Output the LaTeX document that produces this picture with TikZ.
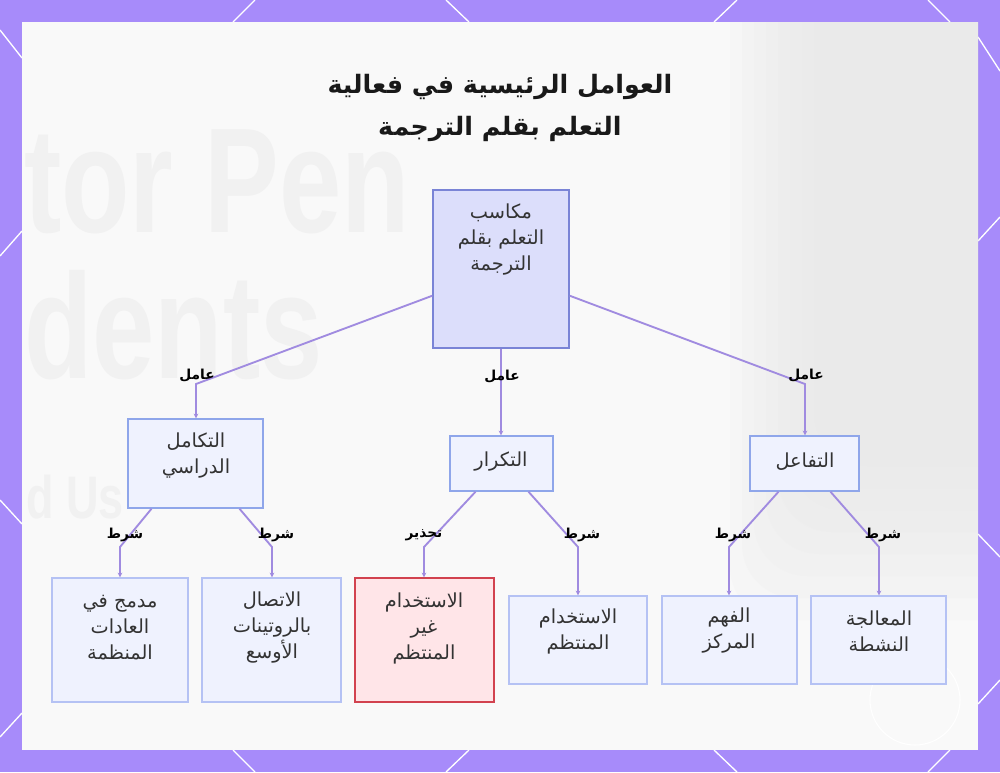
\documentclass[tikz,border=0pt]{standalone}
\usepackage{fontspec}
\setmainfont{DejaVu Sans}
\newfontfamily\arabicfont[Script=Arabic]{DejaVu Sans}
\newfontfamily\bgfont{Liberation Sans}
\TeXXeTstate=1
\usetikzlibrary{fit,calc,arrows.meta}
\definecolor{bgpurple}{HTML}{A78BFA}
\definecolor{panel}{HTML}{F9F9F9}
\definecolor{ghost}{HTML}{F1F1F1}
\definecolor{ghostb}{HTML}{E9E9E9}
\definecolor{rootfill}{HTML}{DCDEFB}
\definecolor{rootdraw}{HTML}{7A84D6}
\definecolor{boxfill}{HTML}{EFF2FE}
\definecolor{lvtwodraw}{HTML}{8FA6EA}
\definecolor{lvthreedraw}{HTML}{B5C2F4}
\definecolor{warnfill}{HTML}{FFE5E8}
\definecolor{warndraw}{HTML}{D2424F}
\definecolor{edgecol}{HTML}{A08BE0}
\definecolor{txtcol}{HTML}{333333}
\newcommand{\ar}[1]{{\arabicfont\beginR #1\endR}}
\tikzset{
  boxbase/.style={rectangle, inner sep=0pt, line width=1.1pt},
  rootbox/.style={boxbase, draw=rootdraw, fill=rootfill},
  lvtwo/.style={boxbase, draw=lvtwodraw, fill=boxfill},
  lvthree/.style={boxbase, draw=lvthreedraw, fill=boxfill},
  warnbox/.style={boxbase, draw=warndraw, fill=warnfill},
  txt/.style={align=center, text=txtcol, font=\arabicfont\fontsize{14.5}{19.5}\selectfont, inner sep=0pt},
  elab/.style={text=black, font=\arabicfont\bfseries\fontsize{10.3}{12}\selectfont, inner sep=0pt},
  edge/.style={draw=edgecol, line width=1.4pt, -{Stealth[length=3.5pt,width=3.5pt]}},
  hexline/.style={draw=white, line width=1pt},
  ghosttext/.style={text=ghost, anchor=west, inner sep=0pt, xscale=0.75}
}
\begin{document}
\begin{tikzpicture}[x=0.75pt,y=-0.75pt]
\useasboundingbox (0,0) rectangle (1000,772);
% background
\fill[bgpurple] (0,0) rectangle (1000,772);
\foreach \a/\b in {{(233,22)}/{(255,0)},{(446,0)}/{(469,22)},{(714,22)}/{(737,0)},{(928,0)}/{(950,22)},
  {(0,30)}/{(22,58)},{(0,256)}/{(22,231)},{(0,500)}/{(22,524)},{(0,737)}/{(22,713)},
  {(978,37)}/{(1000,71)},{(978,241)}/{(1000,217)},{(978,534)}/{(1000,557)},{(978,704)}/{(1000,680)},
  {(233,750)}/{(255,772)},{(446,772)}/{(469,750)},{(714,750)}/{(737,772)},{(928,772)}/{(950,750)}}
  \draw[hexline] \a -- \b;
\fill[panel] (22,22) rectangle (978,750);
% faint background image
\begin{scope}
\clip (22,22) rectangle (978,750);
\foreach \i in {0,...,7}{
  \fill[ghostb, opacity=0.18, rounded corners=40] ({730+\i*12},{-40}) rectangle (1040,{620-\i*22});
}
\node[ghosttext, font=\bgfont\bfseries\fontsize{112}{112}\selectfont] (bgone) at (24,182) {tor Pen};
\node[ghosttext, font=\bgfont\bfseries\fontsize{112}{112}\selectfont] (bgtwo) at (24,325) {dents};
\node[ghosttext, font=\bgfont\bfseries\fontsize{45}{45}\selectfont] (bgthree) at (26,497) {d Us};
\end{scope}
\draw[white, line width=0.8pt] (915,700) circle (45);
% title
\node[align=center, font=\arabicfont\bfseries\fontsize{19}{32}\selectfont, text=black!90] (title) at (500,108)
  {\ar{العوامل الرئيسية في فعالية}\\\ar{التعلم بقلم الترجمة}};
% boxes
\node[rootbox, fit={(433,190) (569,348)}] (root) {};
\node[lvtwo, fit={(128,419) (263,508)}] (ta) {};
\node[lvtwo, fit={(450,436) (553,491)}] (tb) {};
\node[lvtwo, fit={(750,436) (859,491)}] (tc) {};
\node[lvthree, fit={(52,578) (188,702)}] (ba) {};
\node[lvthree, fit={(202,578) (341,702)}] (bb) {};
\node[warnbox, fit={(355,578) (494,702)}] (bc) {};
\node[lvthree, fit={(509,596) (647,684)}] (bd) {};
\node[lvthree, fit={(662,596) (797,684)}] (be) {};
\node[lvthree, fit={(811,596) (946,684)}] (bf) {};
% texts
\node[txt] (roott) at (501,240) {\ar{مكاسب}\\\ar{التعلم بقلم}\\\ar{الترجمة}};
\node[txt] (tat) at (196,456) {\ar{التكامل}\\\ar{الدراسي}};
\node[txt] (tbt) at (501,462) {\ar{التكرار}};
\node[txt] (tct) at (805,462) {\ar{التفاعل}};
\node[txt] (bat) at (120,628) {\ar{مدمج في}\\\ar{العادات}\\\ar{المنظمة}};
\node[txt] (bbt) at (272,628) {\ar{الاتصال}\\\ar{بالروتينات}\\\ar{الأوسع}};
\node[txt] (bct) at (424,628) {\ar{الاستخدام}\\\ar{غير}\\\ar{المنتظم}};
\node[txt] (bdt) at (578,631) {\ar{الاستخدام}\\\ar{المنتظم}};
\node[txt] (bet) at (729,631) {\ar{الفهم}\\\ar{المركز}};
\node[txt] (bft) at (879,631) {\ar{المعالجة}\\\ar{النشطة}};
% bend points
\coordinate (ka) at (196,384);
\coordinate (kc) at (805,384);
\coordinate (ma) at (120,547);
\coordinate (mb) at (272,547);
\coordinate (mc) at (424,547);
\coordinate (md) at (578,547);
\coordinate (me) at (729,547);
\coordinate (mf) at (879,547);
% connectors
\draw[edge] ($(root.south west)+(0,-53)$) -- (ka) -- (ka |- ta.north);
\draw[edge] (root.south) -- (root.south |- tb.north);
\draw[edge] ($(root.south east)+(0,-53)$) -- (kc) -- (kc |- tc.north);
\draw[edge] ($(ta.south)+(-44,0)$) -- (ma) -- (ma |- ba.north);
\draw[edge] ($(ta.south)+(44,0)$) -- (mb) -- (mb |- bb.north);
\draw[edge] ($(tb.south)+(-26,0)$) -- (mc) -- (mc |- bc.north);
\draw[edge] ($(tb.south)+(27,0)$) -- (md) -- (md |- bd.north);
\draw[edge] ($(tc.south)+(-26,0)$) -- (me) -- (me |- be.north);
\draw[edge] ($(tc.south)+(26,0)$) -- (mf) -- (mf |- bf.north);
% edge labels
\node[elab] (la) at (197,376) {\ar{عامل}};
\node[elab] (lb) at (502,377) {\ar{عامل}};
\node[elab] (lc) at (806,376) {\ar{عامل}};
\node[elab] (lba) at (125,535) {\ar{شرط}};
\node[elab] (lbb) at (276,535) {\ar{شرط}};
\node[elab] (lbc) at (424,535) {\ar{تحذير}};
\node[elab] (lbd) at (582,535) {\ar{شرط}};
\node[elab] (lbe) at (733,535) {\ar{شرط}};
\node[elab] (lbf) at (883,535) {\ar{شرط}};
\end{tikzpicture}
\end{document}
